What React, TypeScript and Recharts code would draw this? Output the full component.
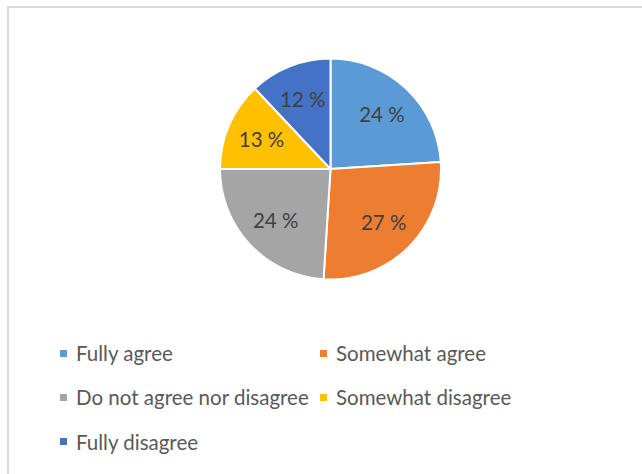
import React from "react";
import { Cell, Legend, Pie, PieChart } from "recharts";

const categories = ["Fully agree", "Somewhat agree", "Do not agree nor disagree", "Somewhat disagree", "Fully disagree"];
const shares = [24, 27, 24, 13, 12];
const COLORS = ["#5b9bd5", "#ed7d31", "#a5a5a5", "#ffc000", "#4472c4"];

const data = categories.map((name, i) => ({ name, value: shares[i] }));

const FONT = "Lato, 'Liberation Sans', sans-serif";

const renderLabel = (props: any) => {
  const { cx, cy, midAngle, outerRadius, value } = props;
  const r = outerRadius * 0.68;
  const rad = (Math.PI / 180) * midAngle;
  const x = cx + r * Math.cos(rad);
  const y = cy - r * Math.sin(rad);
  return (
    <text x={x} y={y} fill="#404040" fontSize={20.5} fontFamily={FONT} textAnchor="middle" dominantBaseline="central">
      {`${value} %`}
    </text>
  );
};

const LegendBox = () => (
  <div style={s.legend}>
    {categories.map((name, i) => (
      <div key={name} style={s.legendItem}>
        <span style={{ ...s.swatch, background: COLORS[i] }} />
        {name}
      </div>
    ))}
  </div>
);

export default function App() {
  return (
    <div style={s.page}>
      <div style={s.frame} />
      <PieChart width={642} height={474} margin={{ top: 0, right: 0, bottom: 0, left: 0 }} style={{ position: "absolute", left: 0, top: 0 }}>
        <Pie
          data={data}
          dataKey="value"
          nameKey="name"
          cx={330.5}
          cy={169}
          outerRadius={110.5}
          startAngle={90}
          endAngle={-270}
          stroke="#ffffff"
          strokeWidth={2}
          label={renderLabel}
          labelLine={false}
          isAnimationActive={false}
        >
          {data.map((d, i) => (
            <Cell key={d.name} fill={COLORS[i]} />
          ))}
        </Pie>
        <Legend content={<LegendBox />} wrapperStyle={{ position: "absolute", left: 0, top: 331, width: 642 }} />
      </PieChart>
    </div>
  );
}

const s: Record<string, React.CSSProperties> = {
  page: { position: "absolute", left: 0, top: 0, width: 642, height: 474, background: "#fff", overflow: "hidden" },
  frame: { position: "absolute", left: 7, top: 6, width: 700, height: 500, borderTop: "2px solid #d9d9d9", borderLeft: "2px solid #d9d9d9" },
  legend: { display: "grid", gridTemplateColumns: "260px 300px", rowGap: 0, paddingLeft: 60, fontFamily: FONT, fontSize: 20.5, color: "#595959" },
  legendItem: { display: "flex", alignItems: "center", height: 44.3, whiteSpace: "nowrap" },
  swatch: { width: 7, height: 7, marginRight: 9, flexShrink: 0 },
};
